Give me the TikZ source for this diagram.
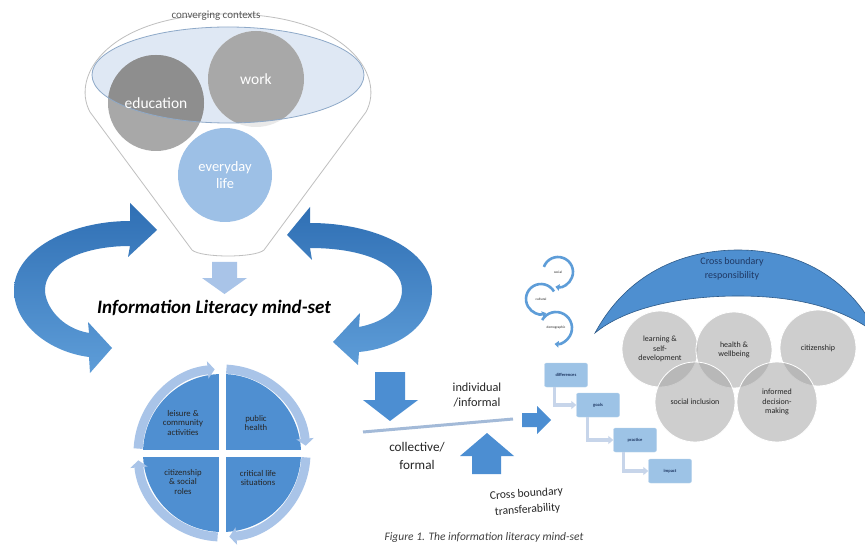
\documentclass[tikz,border=0pt]{standalone}
\usepackage{fontspec}
\setmainfont{Carlito}
\usetikzlibrary{arrows.meta,calc,positioning}

\definecolor{arrowdark}{HTML}{2F6FB4}
\definecolor{arrowlight}{HTML}{5E9DD8}
\definecolor{palebl}{HTML}{A9C4E8}
\definecolor{quadbl}{HTML}{4F8FD1}
\definecolor{boxbl}{HTML}{9DC3E6}
\definecolor{connbl}{HTML}{C7D5EA}
\definecolor{liquid}{HTML}{DFE8F4}
\definecolor{rimline}{HTML}{BFBFBF}
\definecolor{liqline}{HTML}{8EA9C8}
\definecolor{lifebl}{HTML}{9DC0E6}
\definecolor{eduout}{HTML}{A8A8A8}
\definecolor{eduin}{HTML}{8E8E8E}
\definecolor{workin}{HTML}{A8A8A8}
\definecolor{txtdark}{HTML}{262626}
\definecolor{navytxt}{HTML}{1F3864}
\definecolor{archbl}{HTML}{4E8FD0}
\definecolor{archline}{HTML}{2E5A88}
\definecolor{blockbl}{HTML}{4C8ED2}
\definecolor{issuegrey}{HTML}{A6A6A6}

\tikzset{
  ctxlabel/.style={text=white, align=center, font=\fontsize{15.5}{16}\selectfont},
  quadtext/.style={text=txtdark, align=center, font=\fontsize{8.7}{9.7}\selectfont},
  ringarrow/.style={palebl, line width=9pt, -{Triangle[length=7pt,width=17pt]}},
  stepbox/.style={fill=boxbl, draw=boxbl!70!white, rounded corners=2pt, minimum width=43pt,
    minimum height=24pt, inner sep=0pt, text=navytxt, font=\fontsize{4.5}{5}\selectfont\bfseries},
  stepconn/.style={connbl, line width=3.5pt, -{Triangle[length=5pt,width=8pt]}},
  cyclearc/.style={arrowlight, line width=2.6pt, -{Triangle[length=4pt,width=6.5pt]}},
  cyclelabel/.style={text=txtdark, font=\fontsize{3.5}{4}\selectfont},
  issue/.style={circle, fill=issuegrey, fill opacity=0.55, text opacity=1, draw=white,
    line width=0.8pt, inner sep=0pt, align=center, text=txtdark, font=\fontsize{8}{9.5}\selectfont},
  midtext/.style={text=txtdark, align=center, font=\fontsize{12.3}{14.5}\selectfont},
}

\begin{document}
\begin{tikzpicture}[x=1pt, y=-1pt]
\useasboundingbox (0,0) rectangle (865,548);
\fill[white] (0,0) rectangle (865,548);

% funnel of contexts
\draw[rimline, fill=white, line width=0.8pt] (192,250) -- (90,112) .. controls (70,75) and (110,14) .. (228,14)
  .. controls (346,14) and (386,75) .. (366,112) -- (264,250) .. controls (255,258) and (201,258) .. cycle;
\fill[liquid] (228,75) ellipse[x radius=136, y radius=48];
\fill[eduout] (156,103) circle[radius=48];
\fill[white!75!eduout] (256,79) circle[radius=48];
\begin{scope}
  \clip (228,75) ellipse[x radius=136, y radius=48];
  \fill[eduin] (156,103) circle[radius=48];
  \fill[workin] (256,79) circle[radius=48];
\end{scope}
\draw[liqline, line width=0.8pt] (228,75) ellipse[x radius=136, y radius=48];
\fill[lifebl] (225,175) circle[radius=47];
\node[ctxlabel] (edu) at (156,103) {education};
\node[ctxlabel] (work) at (256,79) {work};
\node[ctxlabel, font=\fontsize{14.5}{17}\selectfont] (life) at (225,175) {everyday\\life};
\node[text=black!65, font=\fontsize{11}{12}\selectfont] (conv) at (216,16) {converging contexts};

% arrow into the mind-set
\fill[palebl] (212,262) -- (237,262) -- (237,278) -- (247,278) -- (224.5,294) -- (202,278) -- (212,278) -- cycle;
\node[font=\fontsize{19}{21}\selectfont\bfseries\itshape] (mind) at (214,308) {Information Literacy mind-set};

% curved arrows left and right
\shade[top color=arrowdark, bottom color=arrowlight] (130,221) .. controls (70,221) and (14,250) .. (14,290)
  .. controls (14,325) and (50,352) .. (89,357) -- (90,373) -- (112,348) -- (88,322) -- (89,333)
  .. controls (60,328) and (45,305) .. (45,290) .. controls (45,265) and (80,246) .. (130,246)
  -- (128,257) -- (157,230) -- (130,203) -- cycle;
\shade[top color=arrowdark, bottom color=arrowlight] (310,223) .. controls (375,223) and (432,250) .. (432,290)
  .. controls (432,325) and (400,348) .. (359,352) -- (358,365) -- (333,342) -- (360,313) -- (359,327)
  .. controls (385,322) and (402,308) .. (402,290) .. controls (402,265) and (365,248) .. (310,248)
  -- (312,260) -- (287,235) -- (310,207) -- cycle;

% cycle of life situations
\coordinate (cyc) at (222,453);
\fill[quadbl] (cyc) circle[radius=79];
\draw[white, line width=7pt] ($(cyc)+(0,-95)$) -- ($(cyc)+(0,95)$);
\draw[white, line width=7pt] ($(cyc)+(-95,0)$) -- ($(cyc)+(95,0)$);
\foreach \a in {0,90,180,270}
  \draw[ringarrow] ($(cyc)+(\a+3:84)$) arc[start angle=\a+3, end angle=\a+85, radius=84];
\node[quadtext] (leis) at (183,423) {leisure \&\\community\\activities};
\node[quadtext] (pub) at (256,423) {public\\health};
\node[quadtext] (citq) at (183,482) {citizenship\\\& social\\roles};
\node[quadtext] (crit) at (258,478) {critical life\\situations};

% individual / collective
\fill[blockbl] (375,372) -- (405,372) -- (405,400) -- (418,400) -- (390,421) -- (363,400) -- (375,400) -- cycle;
\draw[palebl!85!gray, line width=3pt] (363,432) -- (513,419);
\fill[blockbl] (472,474) -- (501,474) -- (501,456) -- (514,456) -- (487,433) -- (460,456) -- (472,456) -- cycle;
\fill[blockbl] (522,413) -- (537,413) -- (537,406) -- (551,420) -- (537,434) -- (537,427) -- (522,427) -- cycle;
\node[midtext] (indiv) at (477,395) {individual\\/informal};
\node[midtext, font=\fontsize{13.2}{18}\selectfont] (coll) at (417,456) {collective/\\formal};
\node[midtext, font=\fontsize{11.6}{16}\selectfont, rotate=4] (transf) at (527,502) {Cross boundary\\transferability};
\node[text=black!75, font=\fontsize{11.5}{13}\selectfont\itshape] (caption) at (484,537) {Figure 1. The information literacy mind-set};

% social, cultural, demographic
\coordinate (soc) at (558,272);
\coordinate (cult) at (541,299);
\coordinate (demo) at (556,328);
\draw[cyclearc] ($(soc)+(-160:15)$) arc[start angle=-160, end angle=100, radius=15];
\draw[cyclearc] ($(cult)+(-30:15)$) arc[start angle=-30, end angle=-290, radius=15];
\draw[cyclearc] ($(demo)+(-150:16)$) arc[start angle=-150, end angle=95, radius=16];
\node[cyclelabel] (socl) at (soc) {social};
\node[cyclelabel] (cultl) at (cult) {cultural};
\node[cyclelabel] (demol) at (demo) {demographic};

% steps
\node[stepbox] (diff) at (566,375) {differences};
\node[stepbox] (goals) at (598,405) {goals};
\node[stepbox] (prac) at (635,440) {practice};
\node[stepbox] (imp) at (670,471) {impact};
\draw[stepconn] ($(diff.south west)+(10,0)$) |- (goals.west);
\draw[stepconn] ($(goals.south west)+(11,0)$) |- (prac.west);
\draw[stepconn] ($(prac.south west)+(10,0)$) |- (imp.west);

% cross boundary responsibility
\draw[archline, fill=archbl, line width=0.6pt] (595,333) .. controls (630,268) and (690,250) .. (738,250)
  .. controls (790,250) and (845,270) .. (878,335) .. controls (840,305) and (790,296) .. (738,296)
  .. controls (680,296) and (625,308) .. cycle;
\node[text=navytxt, align=center, font=\fontsize{10}{14}\selectfont] (resp) at (732,269) {Cross boundary\\responsibility};
\node[issue, minimum size=76pt] (lrn) at (660,349) {learning \&\\self-\\development};
\node[issue, minimum size=76pt] (hlth) at (734,350) {health \&\\wellbeing};
\node[issue, minimum size=76pt] (citz) at (818,348) {citizenship};
\node[issue, minimum size=80pt] (incl) at (695,402) {social inclusion};
\node[issue, minimum size=80pt] (dec) at (777,402) {informed\\decision-\\making};

\end{tikzpicture}
\end{document}
